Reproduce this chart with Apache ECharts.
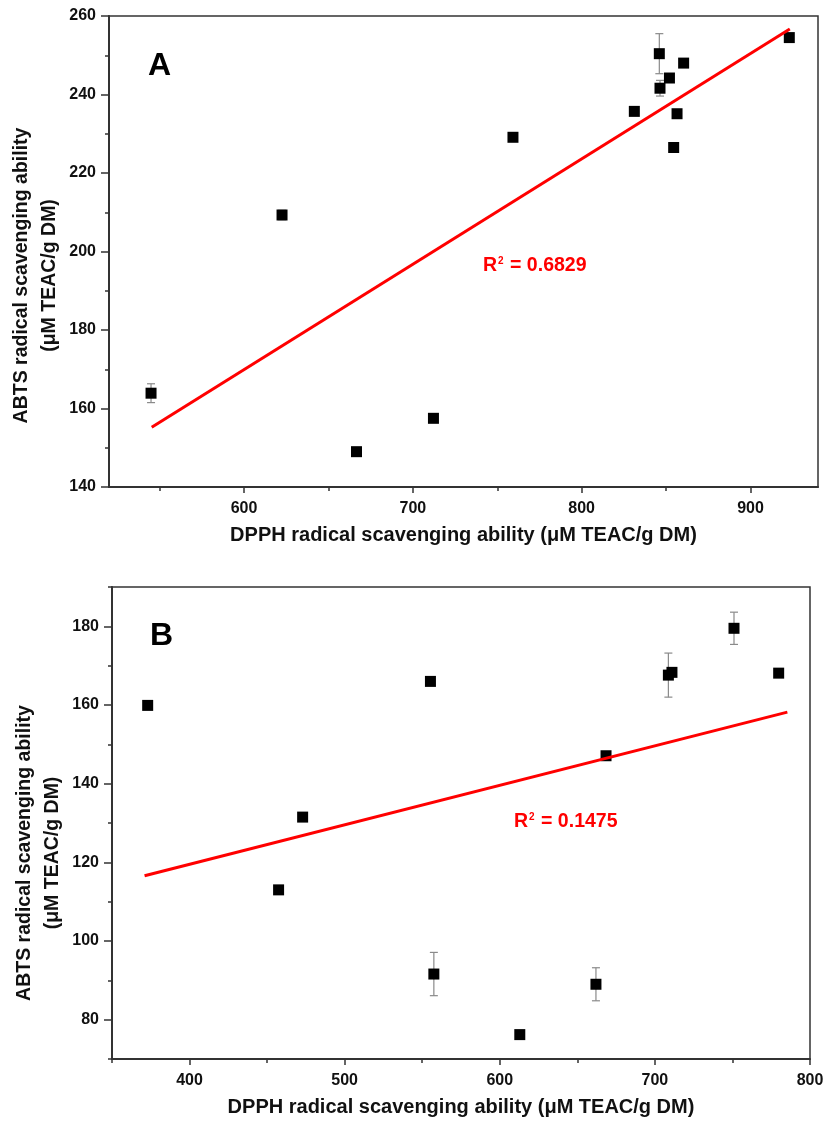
<!DOCTYPE html>
<html>
<head>
<meta charset="utf-8">
<script src="https://cdn.jsdelivr.net/npm/echarts@6/dist/echarts.min.js"></script>
<style>
html,body{margin:0;padding:0;background:#fff;}
#c{width:824px;height:1126px;}
</style>
</head>
<body>
<div id="c"></div>
<script>
// ---- Panel A data ----
const dpphA = [544.9, 622.5, 666.6, 712.2, 759.3, 831.2, 846.0, 852.0, 846.4, 860.4, 856.5, 854.5, 923.0];
const abtsA = [163.9, 209.3, 149.0, 157.5, 229.1, 235.7, 250.4, 244.2, 241.6, 248.0, 235.1, 226.5, 254.5];
const errA  = [2.4, 1.2, 0, 0, 0, 0, 5.1, 0, 2.0, 0, 0.6, 1.0, 0];
const fitXA = [545.3, 923.3];
const fitYA = [155.2, 256.7];
const r2A = '0.6829';
const xTicksA = [600, 700, 800, 900];
const xMinorA = [550, 650, 750, 850];
const yTicksA = [140, 160, 180, 200, 220, 240, 260];
const yMinorA = [150, 170, 190, 210, 230, 250];

// ---- Panel B data ----
const dpphB = [373.0, 472.9, 457.4, 555.3, 557.5, 612.9, 662.0, 668.5, 708.7, 711.0, 751.0, 779.8];
const abtsB = [159.9, 131.5, 113.0, 166.0, 91.6, 76.2, 89.0, 147.1, 167.6, 168.3, 179.5, 168.1];
const errB  = [0, 0, 0, 0, 5.5, 0, 4.2, 0, 5.6, 0, 4.1, 0];
const fitXB = [371.0, 785.4];
const fitYB = [116.6, 158.2];
const r2B = '0.1475';
const xTicksB = [400, 500, 600, 700, 800];
const xMinorB = [350, 450, 550, 650, 750];
const yTicksB = [80, 100, 120, 140, 160, 180];
const yMinorB = [70, 90, 110, 130, 150, 170, 190];

const xTitle = 'DPPH radical scavenging ability (μM TEAC/g DM)';
const yTitle = 'ABTS radical scavenging ability\n(μM TEAC/g DM)';

const FONT = 'Liberation Sans, Arial, sans-serif';
const AX = '#333';

function zip2(a, b) { return a.map((v, i) => [v, b[i]]); }
function zip3(a, b, c) { return a.map((v, i) => [v, b[i], c[i]]); }

function mainX(gi, min, max, ticks) {
  return {
    gridIndex: gi, type: 'value', min: min, max: max,
    name: xTitle, nameLocation: 'middle', nameGap: 38, nameMoveOverlap: false,
    nameTextStyle: { fontFamily: FONT, fontWeight: 'bold', fontSize: 20, color: '#111' },
    axisLine: { show: true, onZero: false, lineStyle: { color: AX, width: 2 } },
    axisTick: { show: true, inside: false, length: 6, customValues: ticks, lineStyle: { color: AX, width: 1.5 } },
    axisLabel: { show: true, customValues: ticks, margin: 14, fontFamily: FONT, fontWeight: 'bold', fontSize: 16, color: '#111' },
    splitLine: { show: false }
  };
}
function minorX(gi, min, max, ticks) {
  return {
    gridIndex: gi, type: 'value', min: min, max: max, position: 'bottom',
    axisLine: { show: false, onZero: false },
    axisTick: { show: true, inside: false, length: 4, customValues: ticks, lineStyle: { color: AX, width: 1.5 } },
    axisLabel: { show: false },
    splitLine: { show: false }
  };
}
function mainY(gi, min, max, ticks, shift) {
  return {
    gridIndex: gi, type: 'value', min: min, max: max,
    name: yTitle, nameLocation: 'middle', nameGap: 45, nameMoveOverlap: false,
    nameTextStyle: { fontFamily: FONT, fontWeight: 'bold', fontSize: 19.5, color: '#111', lineHeight: 28, padding: [0, shift, 0, 0] },
    axisLine: { show: true, onZero: false, lineStyle: { color: AX, width: 2 } },
    axisTick: { show: true, inside: false, length: 8, customValues: ticks, lineStyle: { color: AX, width: 1.5 } },
    axisLabel: { show: true, customValues: ticks, margin: 13, fontFamily: FONT, fontWeight: 'bold', fontSize: 16, color: '#111' },
    splitLine: { show: false }
  };
}
function minorY(gi, min, max, ticks) {
  return {
    gridIndex: gi, type: 'value', min: min, max: max, position: 'left',
    axisLine: { show: false, onZero: false },
    axisTick: { show: true, inside: false, length: 4, customValues: ticks, lineStyle: { color: AX, width: 1.5 } },
    axisLabel: { show: false },
    splitLine: { show: false }
  };
}

function errRender(params, api) {
  const x = api.value(0), y = api.value(1), e = api.value(2);
  if (!e) return null;
  const top = api.coord([x, y + e]);
  const bot = api.coord([x, y - e]);
  const hw = 4;
  const st = { stroke: '#8a8a8a', lineWidth: 1.2 };
  return {
    type: 'group',
    children: [
      { type: 'line', shape: { x1: top[0], y1: top[1], x2: bot[0], y2: bot[1] }, style: st },
      { type: 'line', shape: { x1: top[0] - hw, y1: top[1], x2: top[0] + hw, y2: top[1] }, style: st },
      { type: 'line', shape: { x1: bot[0] - hw, y1: bot[1], x2: bot[0] + hw, y2: bot[1] }, style: st }
    ]
  };
}

function panelSeries(xi, yi, xs, ys, es, fx, fy) {
  return [
    { type: 'custom', xAxisIndex: xi, yAxisIndex: yi, renderItem: errRender, data: zip3(xs, ys, es), z: 2, silent: true },
    { type: 'scatter', xAxisIndex: xi, yAxisIndex: yi, symbol: 'rect', symbolSize: 11,
      itemStyle: { color: '#000', opacity: 1 }, data: zip2(xs, ys), z: 3 },
    { type: 'line', xAxisIndex: xi, yAxisIndex: yi, data: zip2(fx, fy), symbol: 'none',
      lineStyle: { color: '#ff0000', width: 3 }, z: 4 }
  ];
}

function r2Text(left, top, val) {
  return {
    type: 'text', left: left, top: top,
    style: {
      text: '{r|R}{s|2}{r| = ' + val + '}',
      rich: {
        r: { fontFamily: FONT, fontWeight: 'bold', fontSize: 19.5, fill: '#ff0000', color: '#ff0000' },
        s: { fontFamily: FONT, fontWeight: 'bold', fontSize: 10, fill: '#ff0000', color: '#ff0000', verticalAlign: 'top', padding: [0, 1, 10, 1] }
      }
    }
  };
}

const chart = echarts.init(document.getElementById('c'), null, { renderer: 'canvas' });
chart.setOption({
  backgroundColor: '#fff',
  animation: false,
  grid: [
    { left: 109, top: 16, width: 709, height: 471, show: true, borderColor: AX, borderWidth: 1.5, backgroundColor: 'transparent', containLabel: false, outerBoundsMode: 'none' },
    { left: 112, top: 587, width: 698, height: 472, show: true, borderColor: AX, borderWidth: 1.5, backgroundColor: 'transparent', containLabel: false, outerBoundsMode: 'none' }
  ],
  xAxis: [
    mainX(0, 520, 940, xTicksA), minorX(0, 520, 940, xMinorA),
    mainX(1, 350, 800, xTicksB), minorX(1, 350, 800, xMinorB)
  ],
  yAxis: [
    mainY(0, 140, 260, yTicksA, 48), minorY(0, 140, 260, yMinorA),
    mainY(1, 70, 190, yTicksB, 60), minorY(1, 70, 190, yMinorB)
  ],
  series: [].concat(
    panelSeries(0, 0, dpphA, abtsA, errA, fitXA, fitYA),
    panelSeries(2, 2, dpphB, abtsB, errB, fitXB, fitYB)
  ),
  graphic: [
    { type: 'text', left: 148, top: 50, style: { text: 'A', fontFamily: FONT, fontWeight: 'bold', fontSize: 32, fill: '#000' } },
    { type: 'text', left: 150, top: 620, style: { text: 'B', fontFamily: FONT, fontWeight: 'bold', fontSize: 32, fill: '#000' } },
    r2Text(483, 256, r2A),
    r2Text(514, 812, r2B)
  ]
});
</script>
</body>
</html>
